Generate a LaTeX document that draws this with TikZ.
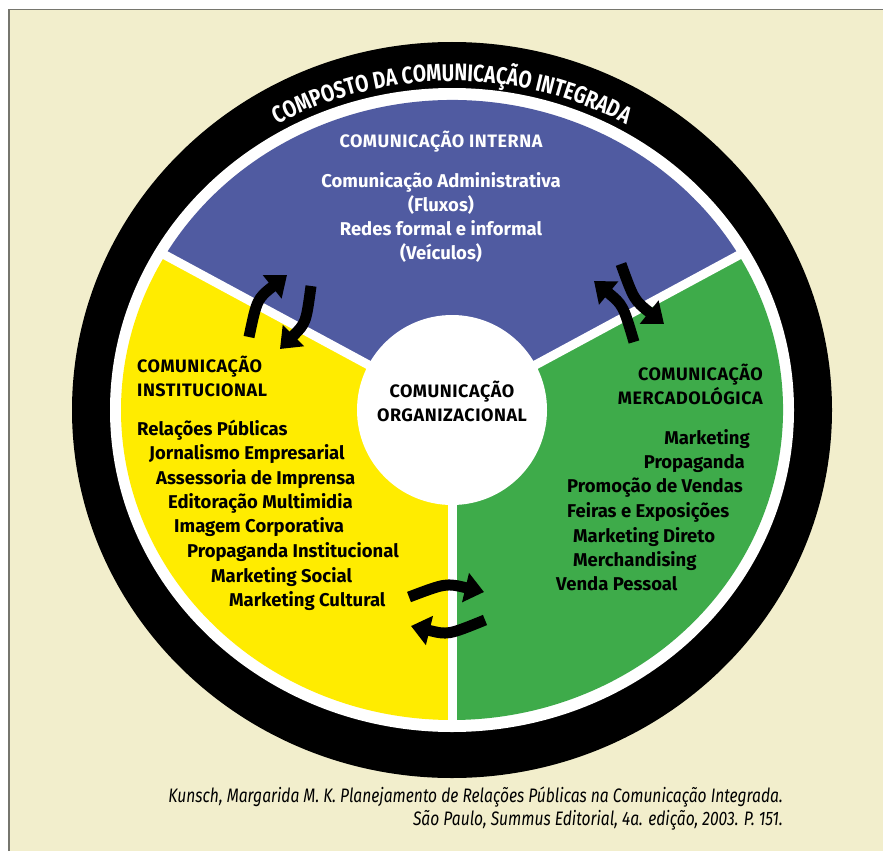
\documentclass[tikz,border=0pt]{standalone}
\usepackage{fontspec}
\setmainfont{Fira Sans}
\newfontfamily\headfont[LetterSpace=3]{Fira Sans}
\newfontfamily\arcfont[FakeStretch=0.8]{Fira Sans}
\newfontfamily\notafont[FakeStretch=0.8]{Fira Sans}
\usetikzlibrary{positioning, arrows.meta, decorations.text}

\definecolor{papel}{RGB}{242,238,204}
\definecolor{moldura}{RGB}{118,118,110}
\definecolor{interna}{RGB}{80,91,161}
\definecolor{institucional}{RGB}{255,236,0}
\definecolor{mercado}{RGB}{62,171,74}

\tikzset{node distance=24pt,
         txt/.style={inner sep=0pt, text height=13pt, text depth=4pt,
                     font=\bfseries\fontsize{18.5}{20}\selectfont},
         head/.style={txt, font=\headfont\bfseries\fontsize{18}{20}\selectfont},
         item/.style={txt, anchor=west},
         nota/.style={inner sep=0pt, anchor=east,
                      font=\notafont\itshape\fontsize{19.5}{21}\selectfont},
         troca/.style={line width=11pt, -{Triangle[length=19pt,width=29pt]}},
         divisa/.style={white, line width=9pt},
         }

\begin{document}
\begin{tikzpicture}[x=1pt, y=-1pt]
    \useasboundingbox (0,0) rectangle (883,851);
    \fill[white] (0,0) rectangle (883,851);
    \fill[papel] (8,9) rectangle (883,851);
    \draw[moldura, line width=1.5pt] (8.75,851) -- (8.75,9.75) -- (883,9.75);

    % anel e setores
    \coordinate (C) at (452,410);
    \fill[black] (C) ellipse [x radius=380, y radius=368];
    \fill[white] (C) ellipse [x radius=342, y radius=322];
    \fill[interna] (C) -- ++(210:331 and 310)
        arc[start angle=210, end angle=330, x radius=331, y radius=310] -- cycle;
    \fill[institucional] (C) -- ++(90:331 and 310)
        arc[start angle=90, end angle=210, x radius=331, y radius=310] -- cycle;
    \fill[mercado] (C) -- ++(-30:331 and 310)
        arc[start angle=-30, end angle=90, x radius=331, y radius=310] -- cycle;
    \draw[divisa] (C) -- ++(210:340 and 318);
    \draw[divisa] (C) -- ++(330:340 and 318);
    \draw[divisa] (C) -- ++(90:340 and 318);
    \fill[white] (C) circle[radius=95];

    \coordinate (tA) at ([shift={(195:350 and 329)}]C);
    \path[decorate, decoration={text along path, text align=center, text color=white,
        text={|\arcfont\bfseries\fontsize{24}{26}\selectfont|COMPOSTO DA COMUNICAÇÃO INTEGRADA}}]
        (tA) arc[start angle=195, end angle=345, x radius=350, y radius=329];

    % centro
    \node[head] (org1) at (452,393) {COMUNICAÇÃO};
    \node[head, below of=org1] (org2) {ORGANIZACIONAL};

    % interna
    \node[head, text=white] (ciT) at (441,143) {COMUNICAÇÃO INTERNA};
    \node[txt, text=white, below of=ciT, yshift=-16pt] (ci1) {Comunicação Administrativa};
    \node[txt, text=white, below of=ci1] (ci2) {(Fluxos)};
    \node[txt, text=white, below of=ci2] (ci3) {Redes formal e informal};
    \node[txt, text=white, below of=ci3] (ci4) {(Veículos)};

    % institucional
    \node[head, anchor=west] (inT1) at (137,368) {COMUNICAÇÃO};
    \node[head, anchor=west] (inT2) at (137,392) {INSTITUCIONAL};
    \node[item] (in1) at (137,431) {Relações Públicas};
    \node[item] (in2) at (149,455) {Jornalismo Empresarial};
    \node[item] (in3) at (156,480) {Assessoria de Imprensa};
    \node[item] (in4) at (168,504) {Editoração Multimidia};
    \node[item] (in5) at (174,528) {Imagem Corporativa};
    \node[item] (in6) at (187,553) {Propaganda Institucional};
    \node[item] (in7) at (211,578) {Marketing Social};
    \node[item] (in8) at (229,602) {Marketing Cultural};

    % mercadologica
    \node[head, anchor=east] (meT1) at (763,376) {COMUNICAÇÃO};
    \node[head, anchor=east] (meT2) at (763,400) {MERCADOLÓGICA};
    \node[item, anchor=east] (me1) at (750,440) {Marketing};
    \node[item, anchor=east] (me2) at (745,464) {Propaganda};
    \node[item] (me3) at (567,488) {Promoção de Vendas};
    \node[item] (me4) at (567,513) {Feiras e Exposições};
    \node[item] (me5) at (573,538) {Marketing Direto};
    \node[item] (me6) at (573,562) {Merchandising};
    \node[item] (me7) at (556,586) {Venda Pessoal};

    % setas de troca
    \coordinate (aTLa) at (249,337);  \coordinate (aTLb) at (287,275);
    \coordinate (bTLa) at (311,286);  \coordinate (bTLb) at (280,349);
    \coordinate (aTRa) at (634,342);  \coordinate (aTRb) at (594,281);
    \coordinate (bTRa) at (621,264);  \coordinate (bTRb) at (664,324);
    \coordinate (aBa) at (409,597);   \coordinate (aBb) at (484,592);
    \coordinate (bBa) at (485,620);   \coordinate (bBb) at (411,626);
    \draw[troca] (aTLa) .. controls (257,299) .. (aTLb);
    \draw[troca] (bTLa) .. controls (306,323) .. (bTLb);
    \draw[troca] (aTRa) .. controls (623,305) .. (aTRb);
    \draw[troca] (bTRa) .. controls (634,300) .. (bTRb);
    \draw[troca] (aBa) .. controls (446,583) .. (aBb);
    \draw[troca] (bBa) .. controls (448,635) .. (bBb);

    % fonte
    \node[nota] (nota1) at (783,797) {Kunsch, Margarida M. K. Planejamento de Relações Públicas na Comunicação Integrada.};
    \node[nota] (nota2) at (783,820) {São Paulo, Summus Editorial, 4a. edição, 2003. P. 151.};
\end{tikzpicture}
\end{document}
